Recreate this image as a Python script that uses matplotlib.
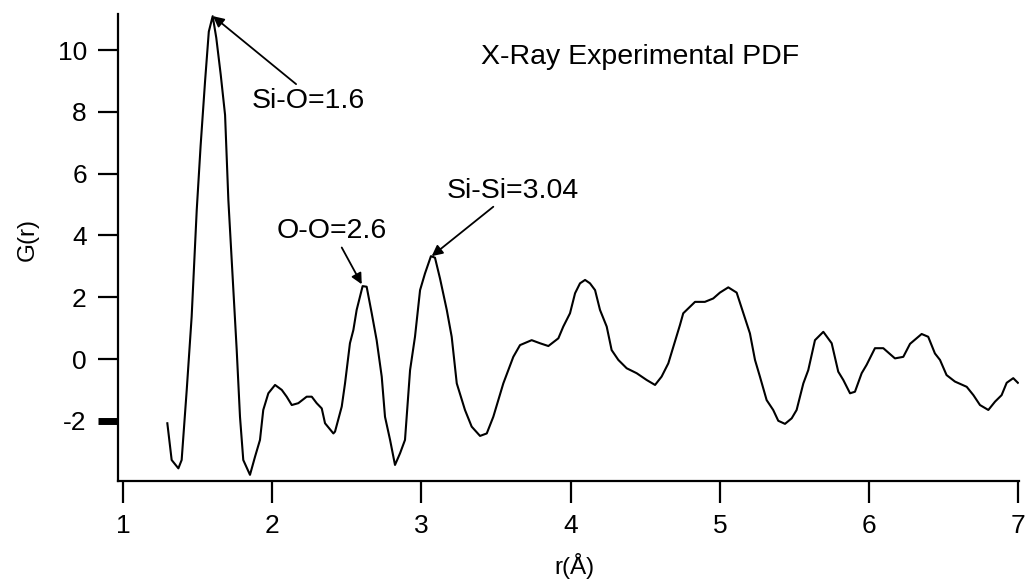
import matplotlib
matplotlib.use('Agg')
import matplotlib.pyplot as plt
import numpy as np

# r (Angstrom) and G(r)
r = [1.297, 1.326, 1.371, 1.393, 1.427, 1.46, 1.494, 1.52, 1.55, 1.575, 1.601,
     1.625, 1.655, 1.684, 1.706, 1.735, 1.762, 1.784, 1.806, 1.851, 1.885,
     1.918, 1.94, 1.974, 2.019, 2.064, 2.097, 2.131, 2.175, 2.231, 2.265,
     2.298, 2.332, 2.354, 2.41, 2.421, 2.466, 2.488, 2.521, 2.544, 2.566,
     2.606, 2.633, 2.667, 2.70, 2.734, 2.756, 2.79, 2.823, 2.857, 2.89,
     2.924, 2.957, 2.991, 3.024, 3.064, 3.091, 3.125, 3.17, 3.203, 3.237,
     3.292, 3.337, 3.393, 3.438, 3.482, 3.549, 3.616, 3.661, 3.739, 3.795,
     3.851, 3.918, 3.951, 3.996, 4.03, 4.063, 4.097, 4.13, 4.164, 4.197,
     4.242, 4.275, 4.32, 4.376, 4.443, 4.51, 4.566, 4.61, 4.655, 4.689,
     4.733, 4.755, 4.834, 4.90, 4.956, 5.001, 5.057, 5.113, 5.158, 5.202,
     5.236, 5.269, 5.314, 5.358, 5.392, 5.437, 5.482, 5.515, 5.56, 5.593,
     5.638, 5.694, 5.75, 5.794, 5.828, 5.873, 5.906, 5.951, 5.984, 6.04,
     6.096, 6.174, 6.23, 6.275, 6.353, 6.397, 6.442, 6.476, 6.52, 6.576,
     6.655, 6.70, 6.744, 6.80, 6.845, 6.889, 6.923, 6.967, 6.998]
G = [-2.08, -3.27, -3.54, -3.27, -1.0, 1.37, 4.82, 6.9, 9.0, 10.6, 11.1,
     10.4, 9.2, 7.9, 5.15, 2.6, 0.29, -1.87, -3.27, -3.75, -3.16,
     -2.62, -1.65, -1.11, -0.84, -1.0, -1.22, -1.49, -1.43, -1.22, -1.22,
     -1.43, -1.6, -2.08, -2.41, -2.35, -1.54, -0.79, 0.51, 0.94, 1.59,
     2.36, 2.34, 1.48, 0.61, -0.57, -1.87, -2.62, -3.43, -3.05, -2.62,
     -0.36, 0.72, 2.23, 2.77, 3.33, 3.28, 2.6, 1.59, 0.72, -0.79,
     -1.65, -2.19, -2.49, -2.41, -1.87, -0.79, 0.07, 0.45, 0.61, 0.51,
     0.42, 0.67, 1.05, 1.48, 2.13, 2.45, 2.56, 2.45, 2.23, 1.59,
     1.05, 0.29, -0.03, -0.3, -0.46, -0.68, -0.84, -0.57, -0.14, 0.4,
     1.1, 1.48, 1.85, 1.85, 1.96, 2.15, 2.32, 2.15, 1.48, 0.83,
     -0.03, -0.57, -1.33, -1.65, -2.0, -2.1, -1.92, -1.65, -0.79, -0.36,
     0.61, 0.88, 0.51, -0.41, -0.68, -1.11, -1.06, -0.46, -0.19, 0.35,
     0.35, 0.02, 0.07, 0.49, 0.81, 0.72, 0.18, -0.03, -0.52, -0.73,
     -0.9, -1.17, -1.49, -1.65, -1.38, -1.17, -0.77, -0.62, -0.77]

# annotations: label, peak (arrow head), arrow tail, text centre
labels = ['Si-O=1.6', 'O-O=2.6', 'Si-Si=3.04']
heads = [(1.603, 11.1), (2.60, 2.42), (3.069, 3.33)]
tails = [(2.160, 8.90), (2.466, 3.61), (3.482, 4.93)]
text_pos = [(2.245, 8.36), (2.397, 4.15), (3.614, 5.45)]

xticks = [1, 2, 3, 4, 5, 6, 7]
yticks = [-2, 0, 2, 4, 6, 8, 10]

plt.rcParams['font.family'] = ['Liberation Sans', 'DejaVu Sans']

fig = plt.figure(figsize=(10.29, 5.81), dpi=100)
ax = fig.add_axes([0.1147, 0.1721, 0.8755, 0.8038])

ax.plot(r, G, color='black', lw=1.5, solid_joinstyle='round')

for lab, h, t, p in zip(labels, heads, tails, text_pos):
    ax.annotate('', xy=h, xytext=t,
                arrowprops=dict(arrowstyle='-|>', color='black', lw=1.3,
                                mutation_scale=16, shrinkA=0, shrinkB=0))
    ax.text(p[0], p[1], lab, ha='center', va='center', fontsize=20.5)

ax.text(4.465, 9.78, 'X-Ray Experimental PDF', ha='center', va='center', fontsize=20.5)

ax.set_xlim(0.9665, 7.005)
ax.set_ylim(-3.95, 11.17)
ax.set_xticks(xticks)
ax.set_yticks(yticks)
ax.set_xticklabels([str(v) for v in xticks])
ax.set_yticklabels([str(v) for v in yticks])

for s in ['top', 'right']:
    ax.spines[s].set_visible(False)
for s in ['left', 'bottom']:
    ax.spines[s].set_linewidth(1.6)

ax.tick_params(axis='y', direction='out', length=14.5, width=1.6, pad=8, labelsize=19)
ax.tick_params(axis='x', direction='out', length=16, width=1.6, pad=8, labelsize=19)
# the -2 tick is drawn heavier in the original
ax.yaxis.get_major_ticks()[0].tick1line.set_markeredgewidth(5)

ax.set_ylabel('G(r)', fontsize=17.5, va='center')
ax.yaxis.set_label_coords(-0.1, 0.518)
ax.set_xlabel('r(Å)', fontsize=17.5, va='center')
ax.xaxis.set_label_coords(0.507, -0.183)

plt.savefig('out.png', dpi=100)
